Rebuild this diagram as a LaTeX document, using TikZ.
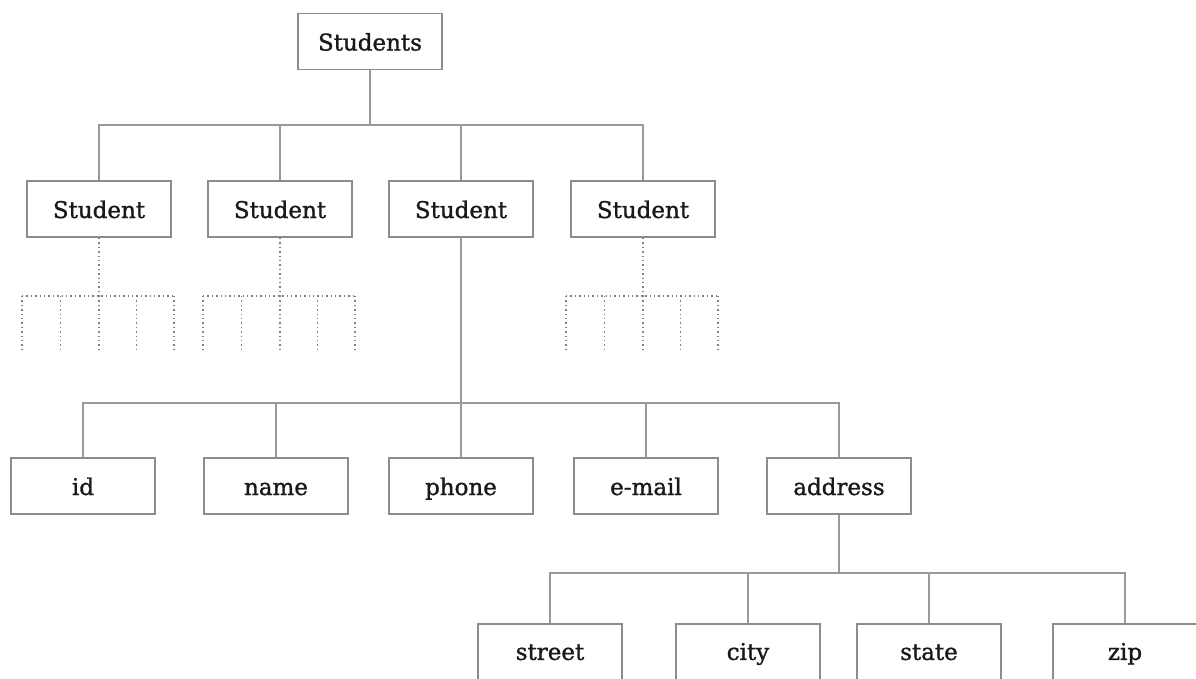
\documentclass[tikz,border=0pt]{standalone}
\usepackage{fontspec}
\setmainfont{DejaVu Serif}
\newfontfamily\boxfont[FakeBold=1.2]{DejaVu Serif}
\usetikzlibrary{calc}
\tikzset{
  box/.style={draw=black!45, line width=1.8pt, minimum width=144pt, minimum height=56pt, inner sep=0pt, font=\boxfont\fontsize{23}{26}\selectfont, text=black!90, text height=22pt, text depth=4pt, anchor=center},
  openbox/.style={box, anchor=north, minimum height=0pt, text height=36pt, text depth=60pt},
  conn/.style={draw=black!40, line width=2pt},
  dots/.style={draw=black!50, line width=1.4pt, dash pattern=on 1.4pt off 3pt},
}
\begin{document}
\begin{tikzpicture}[x=1pt,y=-1pt]
\useasboundingbox (0,0) rectangle (1196,678);
\clip (0,0) rectangle (1196,678);
% level 0
\node[box] (students) at (370,41.5) {Students};
% level 1
\node[box] (s1) at (99,209) {Student};
\node[box] (s2) at (280,209) {Student};
\node[box] (s3) at (461,209) {Student};
\node[box] (s4) at (643,209) {Student};
% level 2
\node[box] (id) at (83,486) {id};
\node[box] (name) at (276,486) {name};
\node[box] (phone) at (461,486) {phone};
\node[box] (email) at (646,486) {e-mail};
\node[box] (address) at (839,486) {address};
% level 3 (cut off by the lower edge)
\node[openbox] (street) at (550,623) {street};
\node[openbox] (city) at (748,623) {city};
\node[openbox] (state) at (929,623) {state};
\node[openbox] (zip) at (1125,623) {zip};
% bus coordinates
\coordinate (bus1) at (0,125);
\coordinate (bus2) at (0,403);
\coordinate (bus3) at (0,573);
% connectors
\foreach \c in {s1,s2,s3,s4}
  \draw[conn] (students.south) -- (students.south |- bus1) -| (\c.north);
\foreach \c in {id,name,phone,email,address}
  \draw[conn] (s3.south) -- (s3.south |- bus2) -| (\c.north);
\foreach \c in {street,city,state,zip}
  \draw[conn] (address.south) -- (address.south |- bus3) -| (\c.north);
% dotted placeholder subtrees
\foreach \s in {s1,s2,s4}{
  \coordinate (\s d) at ($(\s.south)+(0,58)$);
  \draw[dots] (\s.south) -- (\s d);
  \draw[dots] ($(\s d)+(-77,0)$) -- ($(\s d)+(75,0)$);
  \foreach \dx in {-77,-38.5,0,37.5,75}
    \draw[dots] ($(\s d)+(\dx,0)$) -- ++(0,55);
}
\end{tikzpicture}
\end{document}
